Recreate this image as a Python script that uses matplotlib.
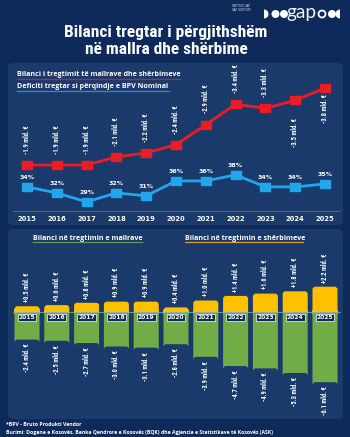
import matplotlib
matplotlib.use("Agg")
import matplotlib.pyplot as plt
from matplotlib import font_manager as fm
from matplotlib.patches import FancyBboxPatch, Circle, Wedge, Rectangle
from matplotlib.lines import Line2D
import matplotlib.transforms as mtransforms

# ---------------- data ----------------
years = [2015, 2016, 2017, 2018, 2019, 2020, 2021, 2022, 2023, 2024, 2025]
trade_balance = [-1.9, -1.9, -1.9, -2.1, -2.2, -2.4, -2.9, -3.4, -3.3, -3.5, -3.8]
deficit_pct_gdp = [34, 32, 29, 32, 31, 36, 36, 38, 34, 34, 35]
goods_balance = [-2.4, -2.5, -2.7, -3.0, -3.1, -2.8, -3.9, -4.7, -4.9, -5.3, -6.1]
services_balance = [0.5, 0.6, 0.8, 0.9, 0.9, 0.4, 1.0, 1.4, 1.6, 1.8, 2.2]

title_lines = ["Bilanci tregtar i përgjithshëm", "në mallra dhe shërbime"]
legend_top = ["Bilanci i tregtimit të mallrave dhe shërbimeve",
              "Deficiti tregtar si përqindje e BPV Nominal"]
legend_bottom = ["Bilanci në tregtimin e mallrave", "Bilanci në tregtimin e shërbimeve"]
foot1 = "*BPV - Bruto Produkti Vendor"
foot2 = ("Burimi: Dogana e Kosovës, Banka Qendrore e Kosovës (BQK) dhe Agjencia "
         "e Statistikave të Kosovës (ASK)")

# ---------------- style ----------------
BG = "#0d2a5a"
PANEL = "#1a3a6b"
RED = "#ec1c24"
BLUE = "#21a6ea"
YELLOW = "#ffc000"
GREEN = "#70ad47"
WHITE = "#ffffff"
SANS = ["Open Sans", "DejaVu Sans"]


def pick_condensed():
    cands = [("Liberation Sans Narrow", "normal"), ("Roboto Condensed", "normal"),
             ("DejaVu Sans", "condensed"), ("Open Sans", "condensed"),
             ("Noto Sans", "condensed")]
    for fam, st in cands:
        try:
            path = fm.findfont(fm.FontProperties(family=fam, stretch=st, weight="bold"),
                               fallback_to_default=False)
        except Exception:
            continue
        low = path.lower()
        if "narrow" in low or "condensed" in low:
            return fam, st
    return "Roboto", "normal"


CFAM, CSTRETCH = pick_condensed()
COND = dict(family=[CFAM, "DejaVu Sans"], stretch=CSTRETCH, fontweight="bold")

W, H = 350, 437
fig = plt.figure(figsize=(W / 100, H / 100), dpi=100)
fig.patch.set_facecolor(BG)
renderer = fig.canvas.get_renderer()


def fit_size(text, target_px, **kw):
    t = fig.text(0, 0, text, fontsize=10, **kw)
    w = t.get_window_extent(renderer).width
    t.remove()
    return 10 * target_px / w


def fx(x):
    return x / W


def fy(y):
    return 1 - y / H


def panel(x0, y0, x1, y1):
    p = FancyBboxPatch((x0 / 100, (H - y1) / 100), (x1 - x0) / 100, (y1 - y0) / 100,
                       boxstyle="round,pad=0,rounding_size=0.05",
                       transform=fig.dpi_scale_trans, fc=PANEL, ec="none", zorder=-5)
    fig.add_artist(p)


panel(8, 63, 343, 225)
panel(8, 229, 343, 419)

# ---------------- title & logo ----------------
ts = fit_size(title_lines[0], 203, **COND)
fig.text(fx(166), fy(33), title_lines[0], ha="center", va="center", color=WHITE,
         fontsize=ts, **COND)
fig.text(fx(166), fy(50), title_lines[1], ha="center", va="center", color=WHITE,
         fontsize=ts, **COND)

LOGOS = fit_size("INSTITUTI GAP", 18, family=SANS)
fig.text(fx(232), fy(6), "INSTITUTI GAP", ha="left", va="center", color=WHITE,
         fontsize=LOGOS, family=SANS)
fig.text(fx(232), fy(10), "GAP INSTITUTE", ha="left", va="center", color=WHITE,
         fontsize=LOGOS, family=SANS)
ly = (H - 14) / 100
tr = fig.dpi_scale_trans
fig.add_artist(Wedge((2.64, ly), 0.045, -90, 90, transform=tr, fc=WHITE, ec="none"))
fig.add_artist(Circle((2.755, ly), 0.04, transform=tr, fc=WHITE, ec="none"))
fig.add_artist(Circle((2.84, ly), 0.04, transform=tr, fc=WHITE, ec="none"))
LOGOF = ["Lato", "DejaVu Sans"]
fig.text(fx(286), fy(12.5), "gap", ha="left", va="center", color="#f2f4f8",
         fontsize=fit_size("gap", 30, family=LOGOF), family=LOGOF)
fig.add_artist(Circle((3.22, ly), 0.035, transform=tr, fc="none", ec=WHITE, lw=1.3))
fig.add_artist(Circle((3.32, ly), 0.04, transform=tr, fc=WHITE, ec="none"))
fig.add_artist(Wedge((3.40, ly), 0.045, 90, 270, transform=tr, fc=WHITE, ec="none"))

# ---------------- common sizes ----------------
LS = fit_size("-3.4 mld. €", 29, **COND)            # value labels
YS = fit_size("2015", 19, family="DejaVu Sans", fontweight="bold")
PS = fit_size("34%", 15, family="DejaVu Sans", fontweight="bold")
BYS = fit_size("2015", 17, family="DejaVu Sans", fontweight="bold")
LEG = fit_size(legend_top[0], 163, family=SANS, fontweight="bold")

# ---------------- top chart ----------------
PX = 29.8  # px per year
xmin = 2015 - 19 / PX
xmax = 2025 + 18 / PX
ax1 = fig.add_axes([fx(8), fy(225), fx(335), 162 / H])
ax1.set_facecolor("none")
ax1.set_xlim(xmin, xmax)
ax1.set_ylim(0.42, 4.42)
ax1.axis("off")
ax1b = ax1.twinx()
ax1b.set_facecolor("none")
ax1b.set_xlim(xmin, xmax)
ax1b.set_ylim(21.3, 75.3)
ax1b.axis("off")

rect_marker = [(-1.3, -1), (1.3, -1), (1.3, 1), (-1.3, 1), (-1.3, -1)]
mag = [abs(v) for v in trade_balance]
ax1.plot(years, mag, color=RED, lw=2.0, marker=rect_marker, ms=7.5, mec=RED, mfc=RED,
         zorder=3)
ax1b.plot(years, deficit_pct_gdp, color=BLUE, lw=2.0, marker=rect_marker, ms=7.5,
          mec=BLUE, mfc=BLUE, zorder=3)

red_offsets = [8, 8, 8, 8, 8, 8, 8, 8, 8, -13, -4]
for x, v, m, off in zip(years, trade_balance, mag, red_offsets):
    ax1.annotate(f"{v:.1f} mld. €", (x, m), xytext=(0, off), textcoords="offset points",
                 rotation=90, ha="center", va="bottom" if off > 0 else "top",
                 color=WHITE, fontsize=LS, **COND)
for x, p in zip(years, deficit_pct_gdp):
    ax1b.annotate(f"{p}%", (x, p), xytext=(0, 5), textcoords="offset points",
                  ha="center", va="bottom", color=WHITE, fontsize=PS,
                  fontweight="bold", family=["DejaVu Sans"])

bt1 = mtransforms.blended_transform_factory(ax1.transData, ax1.transAxes)
ax1.plot([2015 - 14 / PX, 2025 + 15 / PX], [(225 - 211) / 162] * 2, transform=bt1,
         color="#51678c", lw=0.7, zorder=1)
for x in years:
    ax1.text(x, (225 - 219) / 162, str(x), transform=bt1, ha="center", va="center",
             color=WHITE, fontsize=YS, fontweight="bold", family=["DejaVu Sans"])

fig.text(fx(17), fy(74), legend_top[0], ha="left", va="center", color=WHITE,
         fontsize=LEG, fontweight="bold", family=SANS)
fig.add_artist(Line2D([fx(17), fx(180)], [fy(78.5)] * 2, color="#c8202c", lw=0.9))
fig.text(fx(17), fy(86), legend_top[1], ha="left", va="center", color=WHITE,
         fontsize=LEG, fontweight="bold", family=SANS)
fig.add_artist(Line2D([fx(17), fx(169)], [fy(91)] * 2, color="#2a8fd2", lw=0.9))

# ---------------- bottom chart ----------------
PY = 11.5  # px per billion
ax2 = fig.add_axes([fx(8), fy(419), fx(335), 190 / H])
ax2.set_facecolor("none")
ax2.set_xlim(xmin, xmax)
ax2.set_ylim(-(419 - 312) / PY, (312 - 229) / PY)
ax2.axis("off")

bw = 0.84
aspect = PX / PY
rs = 3.0 / PX


def rounded_bars(vals, color, flat_pad):
    bars = ax2.bar(years, vals, width=bw, color="none", edgecolor="none")
    for r in bars:
        x0, y0 = r.get_x(), r.get_y()
        w, h = r.get_width(), r.get_height()
        fp = FancyBboxPatch((x0, y0), w, h,
                            boxstyle=f"round,pad=0,rounding_size={rs}",
                            mutation_aspect=aspect, fc=color, ec="none", zorder=2)
        ax2.add_patch(fp)
        hh = h if abs(h) < 0.6 else (0.3 if h > 0 else -0.3)
        ax2.add_patch(Rectangle((x0, 0), w, hh * flat_pad, fc=color, ec="none", zorder=2))


rounded_bars(goods_balance, GREEN, 1.0)
rounded_bars(services_balance, YELLOW, 0.5)

ax2.plot([2015 - 14 / PX, 2025 + 15 / PX], [0, 0], color="#9fb0c8", lw=0.5, zorder=3)

for x, g, s in zip(years, goods_balance, services_balance):
    ax2.annotate(f"{g:.1f} mld. €", (x, g), xytext=(0, -3), textcoords="offset points",
                 rotation=90, ha="center", va="top", color=WHITE, fontsize=LS, **COND)
    ax2.annotate(f"+{s:.1f} mld. €", (x, s), xytext=(0, 3), textcoords="offset points",
                 rotation=90, ha="center", va="bottom", color=WHITE, fontsize=LS, **COND)
    ax2.text(x, -5.5 / PY, str(x), ha="center", va="center", color=WHITE, fontsize=BYS,
             fontweight="bold", family=["DejaVu Sans"], zorder=4,
             bbox=dict(boxstyle="square,pad=0.18", fc=BG, ec=WHITE, lw=0.5))

LEGB = fit_size(legend_bottom[0], 109, family=SANS, fontweight="bold")
fig.text(fx(33), fy(238), legend_bottom[0], ha="left", va="center", color=WHITE,
         fontsize=LEGB, fontweight="bold", family=SANS)
fig.add_artist(Line2D([fx(33), fx(142)], [fy(242)] * 2, color="#5aa04a", lw=0.9))
fig.text(fx(185), fy(238), legend_bottom[1], ha="left", va="center", color=WHITE,
         fontsize=LEGB, fontweight="bold", family=SANS)
fig.add_artist(Line2D([fx(185), fx(303)], [fy(242)] * 2, color="#e0a030", lw=0.9))

# ---------------- footnotes ----------------
FS = fit_size(foot2, 268, family=SANS, fontweight="bold")
fig.text(fx(6), fy(424.5), foot1, ha="left", va="center", color=WHITE, fontsize=FS,
         fontweight="bold", family=SANS)
fig.text(fx(6), fy(432.5), foot2, ha="left", va="center", color=WHITE, fontsize=FS,
         fontweight="bold", family=SANS)

fig.savefig("out.png", dpi=100, facecolor=BG)
